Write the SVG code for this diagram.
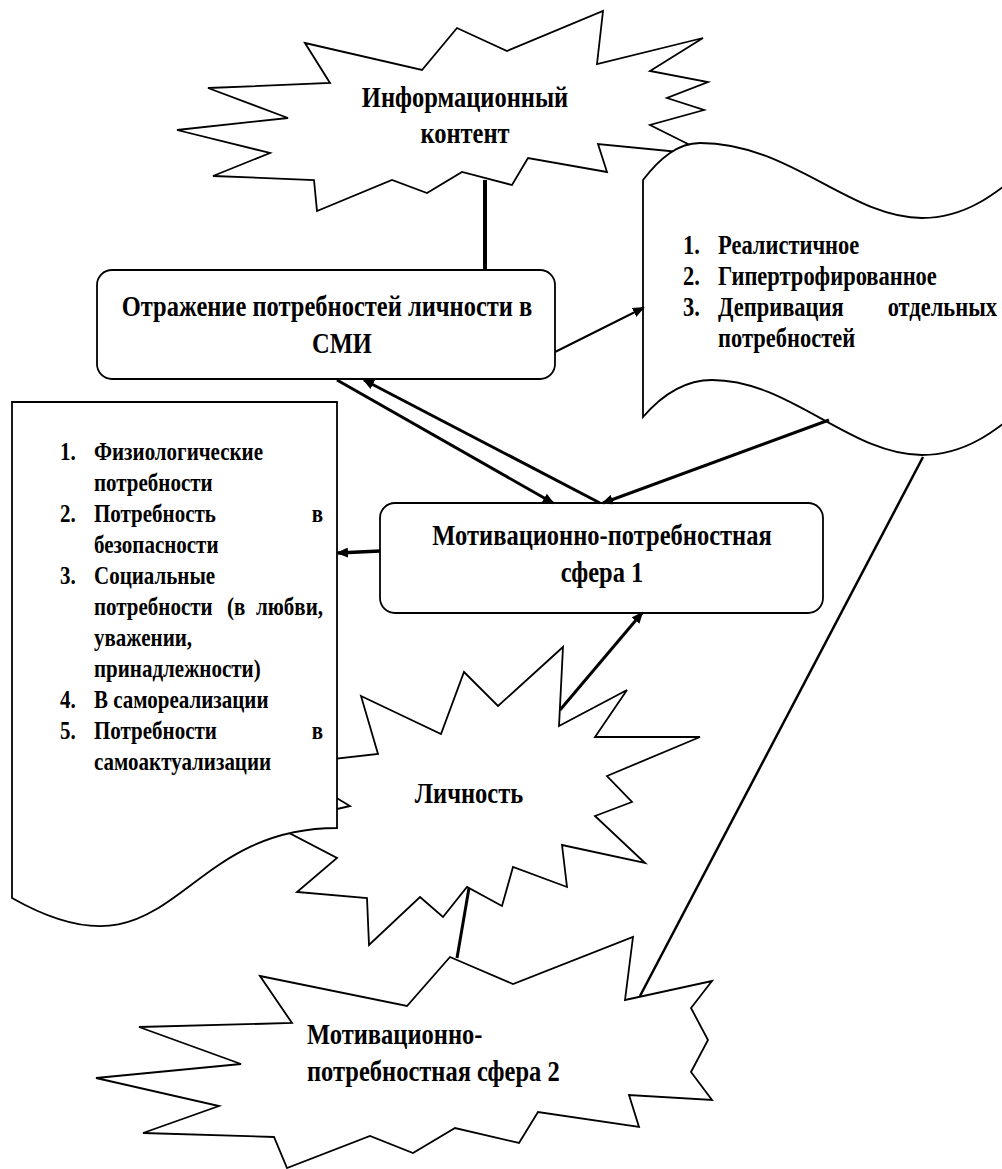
<svg xmlns="http://www.w3.org/2000/svg" width="1002" height="1169" viewBox="0 0 1002 1169">
<style>
.shape{fill:#fff;stroke:#000;stroke-width:1.8;stroke-linejoin:miter}
.lbl{font-family:"Liberation Serif","Times New Roman",serif;font-weight:bold;font-size:24.5px;fill:#000}
.rl{font-family:"Liberation Serif","Times New Roman",serif;font-weight:bold;font-size:22.5px;fill:#000}
.ll{font-family:"Liberation Serif","Times New Roman",serif;font-weight:bold;font-size:21px;fill:#000}
.c{stroke:#000;fill:none}
</style>
<defs>
<marker id="ah" viewBox="0 0 12 10" refX="10" refY="5" markerWidth="12" markerHeight="10" markerUnits="userSpaceOnUse" orient="auto"><path d="M0,0 L12,5 L0,10 Z" fill="#000"/></marker>
</defs>
<g id="info">
<polygon class="shape" points="305,43 422,70 457,28 507,51 603,11 597,64 703,38 650,71 708,82 667,98 704,110 650,125 710,155 598,144 607,172 528,158 512,185 462,172 427,193 392,180 317,211 314,180 213,176 270,153 177,130 288,118 208,88 330,83"/>
<text class="lbl" text-anchor="middle" transform="matrix(1,0,0,1.18,0,107)" x="465" y="0">Информационный</text>
<text class="lbl" text-anchor="middle" transform="matrix(1,0,0,1.18,0,143)" x="465" y="0">контент</text>
</g>
<g id="types">
<path class="shape" d="M643,180 C660,158 678,143 700,143 C790,143 850,218 922,218 C965,218 995,195 1030,165 L1030,402 C995,432 965,455 922,455 C850,455 790,380 712,380 C685,380 662,395 643,417 Z"/>
<text class="rl" transform="matrix(1,0,0,1.18,0,254)"><tspan x="683" y="0">1.</tspan><tspan x="718" y="0">Реалистичное</tspan></text>
<text class="rl" transform="matrix(1,0,0,1.18,0,285)"><tspan x="683" y="0">2.</tspan><tspan x="718" y="0">Гипертрофированное</tspan></text>
<text class="rl" transform="matrix(1,0,0,1.18,0,316)"><tspan x="683" y="0">3.</tspan><tspan x="718" y="0">Депривация</tspan><tspan x="997" y="0" text-anchor="end">отдельных</tspan></text>
<text class="rl" transform="matrix(1,0,0,1.18,0,347)" x="718" y="0">потребностей</text>
</g>
<g id="person">
<polygon class="shape" points="361,696 441,734 464,672 498,706 563,647 559,726 627,690 595,737 700,737 607,776 632,802 595,816 645,863 562,845 567,887 513,867 502,906 467,887 443,917 420,897 369,945 367,898 297,892 337,858 272,824 350,806 320,788 280,765 378,754"/>
<text class="lbl" text-anchor="middle" transform="matrix(1,0,0,1.18,0,803)" x="469" y="0">Личность</text>
</g>
<g id="needs">
<path class="shape" d="M12,402 H337 V828 C174,828 174,990 12,898 Z"/>
<text class="ll" transform="matrix(1,0,0,1.18,0,460)"><tspan x="60" y="0">1.</tspan><tspan x="94" y="0">Физиологические</tspan></text>
<text class="ll" transform="matrix(1,0,0,1.18,0,491)" x="94" y="0">потребности</text>
<text class="ll" transform="matrix(1,0,0,1.18,0,522)"><tspan x="60" y="0">2.</tspan><tspan x="94" y="0">Потребность</tspan><tspan x="323" y="0" text-anchor="end">в</tspan></text>
<text class="ll" transform="matrix(1,0,0,1.18,0,553)" x="94" y="0">безопасности</text>
<text class="ll" transform="matrix(1,0,0,1.18,0,584)"><tspan x="60" y="0">3.</tspan><tspan x="94" y="0">Социальные</tspan></text>
<text class="ll" transform="matrix(1,0,0,1.18,0,615)"><tspan x="94" y="0">потребности</tspan><tspan x="227" y="0">(в</tspan><tspan x="323" y="0" text-anchor="end">любви,</tspan></text>
<text class="ll" transform="matrix(1,0,0,1.18,0,646)" x="94" y="0">уважении,</text>
<text class="ll" transform="matrix(1,0,0,1.18,0,677)" x="94" y="0">принадлежности)</text>
<text class="ll" transform="matrix(1,0,0,1.18,0,708)"><tspan x="60" y="0">4.</tspan><tspan x="94" y="0">В самореализации</tspan></text>
<text class="ll" transform="matrix(1,0,0,1.18,0,739)"><tspan x="60" y="0">5.</tspan><tspan x="94" y="0">Потребности</tspan><tspan x="323" y="0" text-anchor="end">в</tspan></text>
<text class="ll" transform="matrix(1,0,0,1.18,0,770)" x="94" y="0">самоактуализации</text>
</g>
<g id="sphere2">
<polygon class="shape" points="260,976 407,1006 450,957 513,984 633,937 625,1000 712,981 691,1008 708,1040 691,1072 712,1100 629,1095 639,1127 538,1112 519,1143 455,1128 413,1153 370,1136 287,1168 274,1137 143,1133 219,1106 96,1078 241,1064 139,1027 292,1023"/>
<text class="lbl" transform="matrix(1,0,0,1.18,0,1044)" x="307" y="0">Мотивационно-</text>
<text class="lbl" transform="matrix(1,0,0,1.18,0,1081)" x="307" y="0">потребностная сфера 2</text>
</g>
<g id="media">
<rect class="shape" x="97" y="270" width="458" height="109" rx="15"/>
<text class="lbl" text-anchor="middle" transform="matrix(1,0,0,1.18,0,316)" x="327" y="0">Отражение потребностей личности в</text>
<text class="lbl" text-anchor="middle" transform="matrix(1,0,0,1.18,0,353)" x="342" y="0">СМИ</text>
</g>
<g id="sphere1">
<rect class="shape" x="380" y="503" width="443" height="110" rx="15"/>
<text class="lbl" text-anchor="middle" transform="matrix(1,0,0,1.18,0,545)" x="602" y="0">Мотивационно-потребностная</text>
<text class="lbl" text-anchor="middle" transform="matrix(1,0,0,1.18,0,582)" x="602" y="0">сфера 1</text>
</g>
<g id="connectors">
<line class="c" x1="485" y1="180" x2="485" y2="270" stroke-width="4"/>
<line class="c" x1="555" y1="352" x2="643" y2="308" stroke-width="2" marker-end="url(#ah)"/>
<line class="c" x1="337" y1="380" x2="553" y2="503" stroke-width="3" marker-end="url(#ah)"/>
<line class="c" x1="600" y1="503" x2="364" y2="380" stroke-width="3" marker-end="url(#ah)"/>
<line class="c" x1="829" y1="420" x2="603" y2="503" stroke-width="3" marker-end="url(#ah)"/>
<line class="c" x1="380" y1="551" x2="338" y2="553" stroke-width="3.5" marker-end="url(#ah)"/>
<line class="c" x1="560" y1="710" x2="642" y2="613" stroke-width="3" marker-end="url(#ah)"/>
<line class="c" x1="469" y1="888" x2="457" y2="958" stroke-width="3"/>
<line class="c" x1="923" y1="457" x2="640" y2="996" stroke-width="2.5"/>
</g>
</svg>
